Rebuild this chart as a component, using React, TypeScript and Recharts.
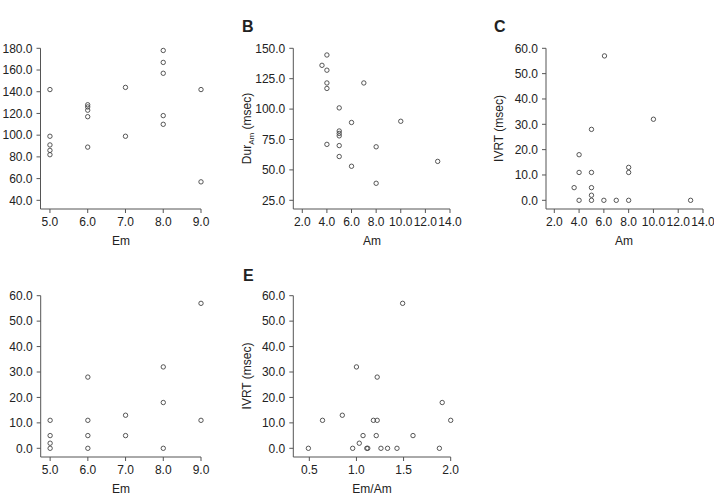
import React from 'react';
import { ScatterChart, Scatter, XAxis, YAxis } from 'recharts';

// Panel A: Em vs duration
const emA = [5, 5, 5, 5, 5, 6, 6, 6, 6, 6, 7, 7, 8, 8, 8, 8, 8, 9, 9];
const durA = [142, 99, 91, 86, 82, 128, 126, 123, 117, 89, 144, 99, 178, 167, 157, 118, 110, 142, 57];

// Panel B: Am vs Dur_Am
const amB = [3.6, 4, 4, 4, 4, 7, 5, 6, 10, 5, 5, 5, 4, 5, 8, 5, 6, 13, 8];
const durAmB = [136, 144.5, 132, 121.5, 117, 121.5, 101, 89, 90, 82, 80, 78, 71, 70, 69, 61, 53, 57, 39];

// Panel C: Am vs IVRT
const amC = [3.6, 4, 4, 4, 5, 5, 5, 5, 5, 6.05, 6, 7, 8, 8, 8, 10, 13];
const ivrtC = [5, 18, 11, 0, 28, 11, 5, 2, 0, 57, 0, 0, 13, 11, 0, 32, 0];

// Panel D: Em vs IVRT
const emD = [5, 5, 5, 5, 6, 6, 6, 6, 7, 7, 8, 8, 8, 9, 9];
const ivrtD = [11, 5, 2, 0, 28, 11, 5, 0, 13, 5, 32, 18, 0, 57, 11];

// Panel E: Em/Am vs IVRT
const ratioE = [0.49, 0.64, 0.85, 0.96, 1.0, 1.03, 1.07, 1.11, 1.12, 1.18, 1.21, 1.22, 1.22, 1.26, 1.33, 1.43, 1.49, 1.6, 1.88, 1.91, 2.0];
const ivrtE = [0, 11, 13, 0, 32, 2, 5, 0, 0, 11, 5, 11, 28, 0, 0, 0, 57, 5, 0, 18, 11];

// Tick values
const emTicks = [5, 6, 7, 8, 9];
const amTicks = [2, 4, 6, 8, 10, 12, 14];
const ratioTicks = [0.5, 1.0, 1.5, 2.0];
const durTicksA = [40, 60, 80, 100, 120, 140, 160, 180];
const durTicksB = [25, 50, 75, 100, 125, 150];
const ivrtTicks = [0, 10, 20, 30, 40, 50, 60];

const W = 714;
const H = 495;
const FONT = '"Liberation Sans", Arial, Helvetica, sans-serif';
const AXIS = '#555';
const TEXT = '#222';

const zip = (xs: number[], ys: number[]) => xs.map((x, i) => ({ x, y: ys[i] }));
const fmt = (v: number) => v.toFixed(1);

const OpenCircle = (props: any) => {
  const { cx, cy } = props;
  if (cx == null || cy == null) return null;
  return <circle cx={cx} cy={cy} r={2.2} fill="none" stroke="#444" strokeWidth={0.9} />;
};

type PanelProps = {
  plot: { x0: number; x1: number; y0: number; y1: number };
  xDomain: [number, number];
  yDomain: [number, number];
  xTicks: number[];
  yTicks: number[];
  xs: number[];
  ys: number[];
};

function Panel({ plot, xDomain, yDomain, xTicks, yTicks, xs, ys }: PanelProps) {
  const yAxisW = 40;
  const xAxisH = 30;
  const margin = {
    left: plot.x0 - yAxisW,
    right: W - plot.x1,
    top: plot.y0,
    bottom: H - plot.y1 - xAxisH,
  };
  const tickStyle = { fill: TEXT, fontSize: 12, fontFamily: FONT };
  return (
    <div style={{ position: 'absolute', left: 0, top: 0, width: W, height: H }}>
      <ScatterChart width={W} height={H} margin={margin}>
        <XAxis
          type="number"
          dataKey="x"
          domain={xDomain}
          ticks={xTicks}
          interval={0}
          tickFormatter={fmt}
          tick={tickStyle}
          tickSize={4}
          tickMargin={4}
          height={xAxisH}
          stroke={AXIS}
          tickLine={{ stroke: AXIS }}
          axisLine={{ stroke: AXIS }}
        />
        <YAxis
          type="number"
          dataKey="y"
          domain={yDomain}
          ticks={yTicks}
          interval={0}
          tickFormatter={fmt}
          tick={tickStyle}
          tickSize={4}
          tickMargin={4}
          width={yAxisW}
          stroke={AXIS}
          tickLine={{ stroke: AXIS }}
          axisLine={{ stroke: AXIS }}
        />
        <Scatter data={zip(xs, ys)} shape={OpenCircle} isAnimationActive={false} />
      </ScatterChart>
    </div>
  );
}

export default function App() {
  return (
    <div style={{ position: 'absolute', left: 0, top: 0, width: W, height: H, background: '#fff', overflow: 'hidden' }}>
      <Panel
        plot={{ x0: 40.5, x1: 201, y0: 48.3, y1: 209 }}
        xDomain={[4.75, 9]}
        yDomain={[32, 180]}
        xTicks={emTicks}
        yTicks={durTicksA}
        xs={emA}
        ys={durA}
      />
      <Panel
        plot={{ x0: 293.3, x1: 450, y0: 48.3, y1: 209 }}
        xDomain={[1.27, 14]}
        yDomain={[17.85, 150]}
        xTicks={amTicks}
        yTicks={durTicksB}
        xs={amB}
        ys={durAmB}
      />
      <Panel
        plot={{ x0: 546, x1: 703, y0: 48.3, y1: 209 }}
        xDomain={[1.33, 14]}
        yDomain={[-3.43, 60]}
        xTicks={amTicks}
        yTicks={ivrtTicks}
        xs={amC}
        ys={ivrtC}
      />
      <Panel
        plot={{ x0: 40.7, x1: 201, y0: 295.7, y1: 457 }}
        xDomain={[4.75, 9]}
        yDomain={[-3.42, 60]}
        xTicks={emTicks}
        yTicks={ivrtTicks}
        xs={emD}
        ys={ivrtD}
      />
      <Panel
        plot={{ x0: 293.3, x1: 450.7, y0: 295.7, y1: 457 }}
        xDomain={[0.33, 2.0]}
        yDomain={[-3.42, 60]}
        xTicks={ratioTicks}
        yTicks={ivrtTicks}
        xs={ratioE}
        ys={ivrtE}
      />
      <svg
        width={W}
        height={H}
        style={{ position: 'absolute', left: 0, top: 0, pointerEvents: 'none' }}
        fontFamily={FONT}
        fill={TEXT}
      >
        {/* panel letters */}
        <text x={242} y={32} fontSize={16} fontWeight="bold">B</text>
        <text x={494} y={32} fontSize={16} fontWeight="bold">C</text>
        <text x={243} y={281} fontSize={16} fontWeight="bold">E</text>

        {/* x-axis titles */}
        <text x={121} y={245} fontSize={12} textAnchor="middle">Em</text>
        <text x={372} y={245} fontSize={12} textAnchor="middle">Am</text>
        <text x={624} y={245} fontSize={12} textAnchor="middle">Am</text>
        <text x={121} y={493} fontSize={12} textAnchor="middle">Em</text>
        <text x={372} y={493} fontSize={12} textAnchor="middle">Em/Am</text>

        {/* y-axis titles */}
        <text transform="translate(251,128.5) rotate(-90)" fontSize={12} textAnchor="middle">
          Dur<tspan fontSize={8} dy={3}>Am</tspan><tspan dy={-3}> (msec)</tspan>
        </text>
        <text transform="translate(503,128.5) rotate(-90)" fontSize={12} textAnchor="middle">IVRT (msec)</text>
        <text transform="translate(251,376) rotate(-90)" fontSize={12} textAnchor="middle">IVRT (msec)</text>
      </svg>
    </div>
  );
}
